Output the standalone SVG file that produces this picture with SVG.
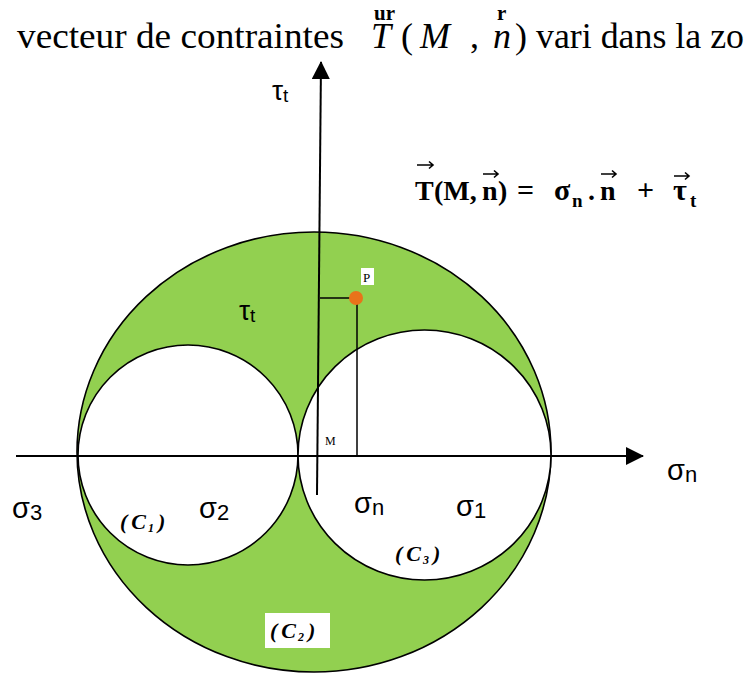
<svg xmlns="http://www.w3.org/2000/svg" width="746" height="675" viewBox="0 0 746 675">
<style>
.ser{font-family:"Liberation Serif","Times New Roman",serif;fill:#000}
.sans{font-family:"Liberation Sans",Arial,sans-serif;fill:#000}
.fb{font-family:"Liberation Serif","Times New Roman",serif;font-weight:bold;fill:#000}
.ln{stroke:#000;stroke-width:2;fill:none}
.oc{stroke:#000;stroke-width:1.6}
.va{stroke:#000;stroke-width:1.5;fill:none}
.cl{font-family:"Liberation Serif","Times New Roman",serif;font-weight:bold;font-style:italic;font-size:22px;fill:#000}
</style>
<defs>
<marker id="ah" markerUnits="userSpaceOnUse" markerWidth="20" markerHeight="20" refX="17" refY="9" orient="auto">
<path d="M0,0 L18,9 L0,18 Z" fill="#000"/>
</marker>
</defs>
<rect width="746" height="675" fill="#fff"/>

<g id="title">
<text class="ser" x="17" y="48" font-size="36" textLength="327" lengthAdjust="spacingAndGlyphs">vecteur de contraintes</text>
<text class="fb" x="374" y="20" font-size="21">ur</text>
<text class="ser" x="371" y="48" font-size="36" font-style="italic">T</text>
<text class="ser" x="401" y="48" font-size="36">(</text>
<text class="ser" x="420" y="48" font-size="36" font-style="italic">M</text>
<text class="ser" x="470" y="48" font-size="36">,</text>
<text class="fb" x="497" y="20" font-size="21">r</text>
<text class="ser" x="493" y="48" font-size="36" font-style="italic">n</text>
<text class="ser" x="515" y="48" font-size="36">)</text>
<text class="ser" x="536" y="48" font-size="36" textLength="208" lengthAdjust="spacingAndGlyphs">vari dans la zo</text>
</g>

<g id="zoneC2">
<ellipse cx="314" cy="452" rx="237" ry="220" fill="#92D050" class="oc"/>
</g>
<g id="circleC1">
<circle cx="188" cy="455" r="110" fill="#fff" class="oc"/>
</g>
<g id="circleC3">
<ellipse cx="424.5" cy="455" rx="126.5" ry="125" fill="#fff" class="oc"/>
</g>

<g id="connectors">
<line class="ln" x1="16" y1="456" x2="643" y2="456" marker-end="url(#ah)"/>
<line class="ln" x1="317" y1="495" x2="321" y2="62" marker-end="url(#ah)"/>
<line class="va" x1="320" y1="298" x2="352" y2="298"/>
<line class="va" x1="357" y1="298" x2="357" y2="456"/>
</g>

<g id="pointP">
<circle cx="356" cy="298" r="7" fill="#E8731A"/>
<rect x="361" y="268" width="13" height="17" fill="#fff"/>
<text class="ser" x="363" y="282" font-size="13">P</text>
</g>

<g id="pointM">
<text class="ser" x="325" y="445" font-size="12">M</text>
</g>

<g id="formula">
<text class="fb" x="415" y="200" font-size="28">T</text>
<text class="fb" x="434" y="200" font-size="28">(M,</text>
<text class="fb" x="482" y="200" font-size="28">n</text>
<text class="fb" x="498" y="200" font-size="28">)</text>
<text class="fb" x="517" y="200" font-size="30">=</text>
<text class="fb" x="554" y="200" font-size="30">σ</text>
<text class="fb" x="572" y="207" font-size="19">n</text>
<text class="fb" x="588" y="200" font-size="28">.</text>
<text class="fb" x="600" y="200" font-size="28">n</text>
<text class="fb" x="637" y="200" font-size="30">+</text>
<text class="fb" x="673" y="200" font-size="30">τ</text>
<text class="fb" x="690" y="207" font-size="19">t</text>
<g stroke="#000" stroke-width="1.6" fill="none">
<path d="M417,165 H433 M429,161.5 L433,165 L429,168.5"/>
<path d="M483,174 H498 M494,170.5 L498,174 L494,177.5"/>
<path d="M601,174 H616 M612,170.5 L616,174 L612,177.5"/>
<path d="M674,176 H689 M685,172.5 L689,176 L685,179.5"/>
</g>
</g>

<g id="labels">
<text class="sans" x="272" y="100" font-size="28">τ<tspan font-size="19" dy="2">t</tspan></text>
<text class="sans" x="239" y="320" font-size="28">τ<tspan font-size="19" dy="2">t</tspan></text>
<text class="sans" x="12" y="518" font-size="29">σ<tspan font-size="22" dy="2">3</tspan></text>
<text class="sans" x="199" y="518" font-size="29">σ<tspan font-size="22" dy="2">2</tspan></text>
<text class="sans" x="354" y="513" font-size="29">σ<tspan font-size="22" dy="2">n</tspan></text>
<text class="sans" x="456" y="516" font-size="29">σ<tspan font-size="22" dy="2">1</tspan></text>
<text class="sans" x="667" y="480" font-size="29">σ<tspan font-size="22" dy="2">n</tspan></text>
<text class="cl" x="120" y="529">(<tspan dx="4">C</tspan><tspan font-size="12" dx="2" dy="3">1</tspan><tspan dx="4" dy="-3">)</tspan></text>
<text class="cl" x="395" y="561">(<tspan dx="4">C</tspan><tspan font-size="12" dx="2" dy="3">3</tspan><tspan dx="4" dy="-3">)</tspan></text>
<rect x="265" y="613" width="65" height="35" fill="#fff"/>
<text class="cl" x="270" y="638">(<tspan dx="4">C</tspan><tspan font-size="12" dx="2" dy="3">2</tspan><tspan dx="4" dy="-3">)</tspan></text>
</g>
</svg>
